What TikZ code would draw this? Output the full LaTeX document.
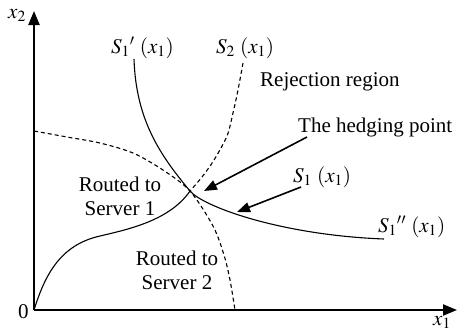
\documentclass[tikz,border=0pt]{standalone}
\usepackage{mathptmx}
\usepackage{fontspec}
\setmainfont{Liberation Serif}
\usetikzlibrary{arrows.meta}

\begin{document}
\begin{tikzpicture}[x=1pt,y=-1pt,
  lbl/.style={inner sep=0pt,font=\fontsize{21}{24}\selectfont},
  axis/.style={line width=2.2pt,-{Triangle[length=14pt,width=11pt]}},
  curve/.style={line width=1.1pt},
  dcurve/.style={line width=1.1pt,dash pattern=on 4pt off 3pt},
  pointer/.style={line width=1.6pt,-{Triangle[length=13pt,width=10pt]}}]
\useasboundingbox (0,0) rectangle (457,333);

% axes
\coordinate (o) at (34,310);
\coordinate (ytop) at (34,11);
\coordinate (xend) at (457,310);
\draw[axis] (o) -- (ytop);
\draw[axis] (o) -- (xend);
\node[lbl,anchor=base west] (x2) at (8,18) {$x_2$};
\node[lbl,anchor=base west] (x1) at (433,325) {$x_1$};
\node[lbl,anchor=base west] (zero) at (18,318) {0};

% hedging point
\coordinate (hp) at (190,191);

% solid switching curve S1 (upper branch S1', lower branch S1'')
\draw[curve] (134,59) .. controls (136,120) and (160,155) .. (hp)
  .. controls (202.8,206.4) and (280,235) .. (384,239);
% solid curve from the origin to the hedging point
\draw[curve] (o) .. controls (45,275) and (60,245) .. (100,236)
  .. controls (130,229) and (170,220) .. (hp);

% dashed curve S2
\draw[dcurve] plot[smooth,tension=0.5] coordinates
  {(243,63) (238,90) (233,113) (227,136) (214,160) (202,177) (hp)};
% dashed boundary between the two routing regions
\draw[dcurve] plot[smooth,tension=0.5] coordinates
  {(34,131) (67,137) (100,143) (133,153) (163,170) (hp) (213,226)
   (224,255) (230,280) (235,310)};

% labels
\node[lbl,anchor=base west] (s1p) at (111,53) {$S_1{}'\ (x_1)$};
\node[lbl,anchor=base west] (s2) at (216,53) {$S_2\ (x_1)$};
\node[lbl,anchor=base west] (rej) at (260,86) {Rejection region};
\node[lbl,anchor=base west] (hedge) at (298,132) {The hedging point};
\node[lbl,anchor=base west] (s1) at (293,182) {$S_1\ (x_1)$};
\node[lbl,anchor=base west] (s1pp) at (378,232) {$S_1{}''\ (x_1)$};
\node[lbl,align=center] (r1) at (120,196) {Routed to\\Server 1};
\node[lbl,align=center] (r2) at (177,270) {Routed to\\Server 2};

% pointers
\coordinate (hstart) at (307,137);
\coordinate (htip) at (204,191);
\coordinate (sstart) at (301,187);
\coordinate (stip) at (237,212);
\draw[pointer] (hstart) -- (htip);
\draw[pointer] (sstart) -- (stip);
\end{tikzpicture}
\end{document}
